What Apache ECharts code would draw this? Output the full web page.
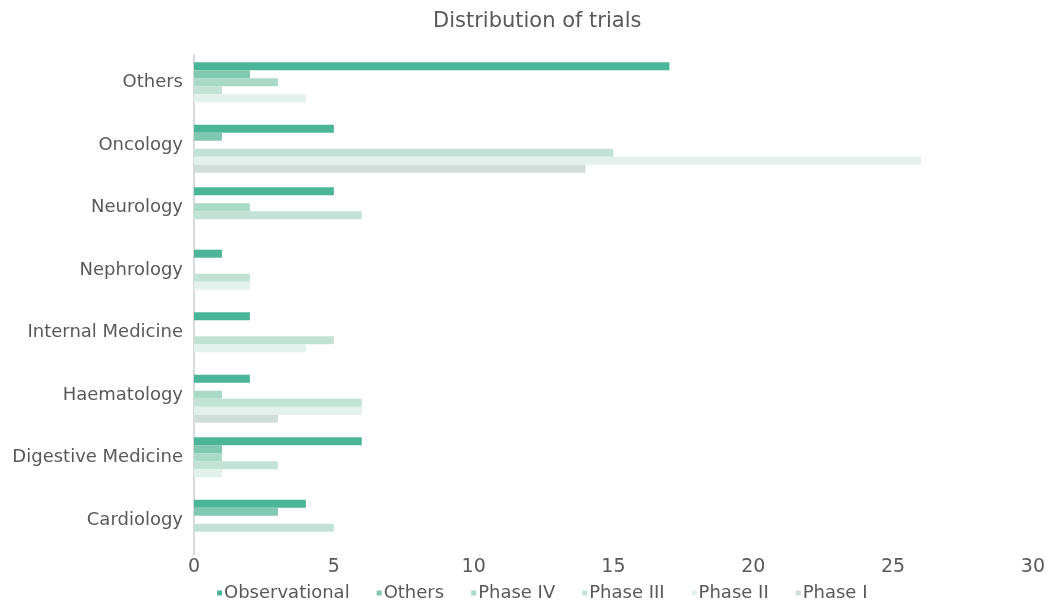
<!DOCTYPE html>
<html>
<head>
<meta charset="utf-8">
<script src="https://cdn.jsdelivr.net/npm/echarts@6/dist/echarts.min.js"></script>
<style>html,body{margin:0;padding:0;background:#fff}#c{width:1048px;height:608px}</style>
</head>
<body>
<div id="c"></div>
<script>
const categories = ['Cardiology','Digestive Medicine','Haematology','Internal Medicine','Nephrology','Neurology','Oncology','Others'];
const seriesNames = ['Observational','Others','Phase IV','Phase III','Phase II','Phase I'];
const observational = [4, 6, 2, 2, 1, 5, 5, 17];
const others        = [3, 1, 0, 0, 0, 0, 1, 2];
const phaseIV       = [0, 1, 1, 0, 0, 2, 0, 3];
const phaseIII      = [5, 3, 6, 5, 2, 6, 15, 1];
const phaseII       = [0, 1, 6, 4, 2, 0, 26, 4];
const phaseI        = [0, 0, 3, 0, 0, 0, 14, 0];
const xTicks = [0, 5, 10, 15, 20, 25, 30];
const colors = ['#4AB598','#80C8AF','#A8DAC7','#C2E2D6','#E2F1EC','#D0DDD8'];

const values = [observational, others, phaseIV, phaseIII, phaseII, phaseI];
const font = 'DejaVu Sans';
const chart = echarts.init(document.getElementById('c'));
chart.setOption({
  animation: false,
  textStyle: {fontFamily: font, color: '#595959'},
  title: {text: 'Distribution of trials', left: 428, top: 6,
    textStyle: {fontFamily: font, fontSize: 21, fontWeight: 'normal', color: '#595959'}},
  legend: {bottom: 1, left: 212, itemWidth: 5, itemHeight: 5, itemGap: 27,
    icon: 'rect', data: seriesNames,
    textStyle: {fontFamily: font, fontSize: 18, color: '#595959', padding: [0,0,0,-3]}},
  grid: {left: 194, right: 15, top: 55, bottom: 53, containLabel: false},
  xAxis: {type: 'value', min: 0, max: 30, interval: 5,
    axisLine: {show: false}, axisTick: {show: false}, splitLine: {show: false},
    axisLabel: {fontSize: 19, color: '#595959', margin: 3,
      formatter: v => xTicks.includes(v) ? String(v) : ''}},
  yAxis: {type: 'category', data: categories,
    axisLine: {show: true, lineStyle: {color: '#D9D9D9', width: 2}},
    axisTick: {show: false},
    axisLabel: {fontSize: 18, color: '#595959', margin: 11,
      formatter: v => '{a|' + v + '}',
      rich: {a: {fontFamily: font, fontSize: 18, color: '#595959', padding: [0,0,7,0]}}}},
  series: seriesNames.map((n, i) => ({
    name: n, type: 'bar', data: values[i],
    barGap: '0%', barCategoryGap: '23%',
    itemStyle: {color: colors[i]}
  }))
});
</script>
</body>
</html>
